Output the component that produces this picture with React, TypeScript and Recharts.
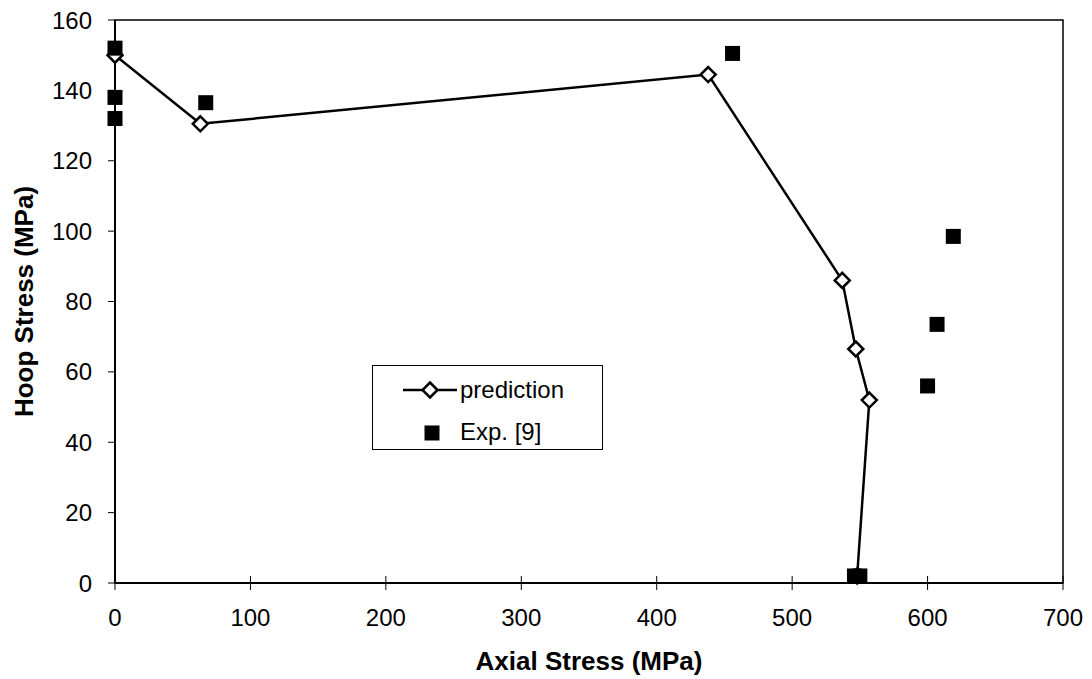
import React from 'react';
import { ScatterChart, Scatter, XAxis, YAxis, ReferenceArea } from 'recharts';

// prediction curve (axial, hoop) in MPa
const predAxial = [0, 63, 438, 537, 547, 557, 548];
const predHoop = [150, 130.5, 144.5, 86, 66.5, 52, 2];

// experimental points, ref [9]
const expAxial = [0, 0, 0, 67, 456, 619, 607, 600, 546, 550];
const expHoop = [152, 138, 132, 136.5, 150.5, 98.5, 73.5, 56, 2, 2];

const xTicks = [0, 100, 200, 300, 400, 500, 600, 700];
const yTicks = [0, 20, 40, 60, 80, 100, 120, 140, 160];

const predData = predAxial.map((x, i) => ({ x, y: predHoop[i] }));
const expData = expAxial.map((x, i) => ({ x, y: expHoop[i] }));

const FONT = '"Liberation Sans", Arial, sans-serif';

const Diamond = (props: any) => {
  const { cx, cy } = props;
  const r = 7.5;
  return (
    <path
      d={`M${cx},${cy - r} L${cx + r},${cy} L${cx},${cy + r} L${cx - r},${cy} Z`}
      fill="#fff"
      stroke="#000"
      strokeWidth={2.5}
    />
  );
};

const Square = (props: any) => {
  const { cx, cy } = props;
  const s = 15;
  return <rect x={cx - s / 2} y={cy - s / 2} width={s} height={s} fill="#000" />;
};

// x ticks cross the axis, so draw the upper half here
const XTick = (props: any) => {
  const { x, y, payload } = props;
  return (
    <g>
      <line x1={x} x2={x} y1={y - 33} y2={y - 26} stroke="#000" strokeWidth={1} />
      <text x={x} y={y} dy="0.71em" textAnchor="middle" fontSize={24} fontFamily={FONT} fill="#000">
        {payload.value}
      </text>
    </g>
  );
};

const LegendBox = () => (
  <div
    style={{
      position: 'absolute',
      left: 372,
      top: 365,
      width: 231,
      height: 85,
      boxSizing: 'border-box',
      border: '1px solid #000',
      background: '#fff',
    }}
  >
    <svg width={231} height={85} style={{ position: 'absolute', left: -1, top: -1 }}>
      <line x1={31} x2={85} y1={25} y2={25} stroke="#000" strokeWidth={2.5} />
      <Diamond cx={58} cy={25} />
      <Square cx={60} cy={68} />
      <text x={88} y={25} dy="0.35em" fontSize={24} fontFamily={FONT}>prediction</text>
      <text x={88} y={67} dy="0.35em" fontSize={24} fontFamily={FONT}>Exp. [9]</text>
    </svg>
  </div>
);

const YTitle = (props: any) => {
  const { viewBox } = props;
  const cx = viewBox.x + 24;
  const cy = viewBox.y + viewBox.height / 2;
  return (
    <text
      x={cx}
      y={cy}
      transform={`rotate(-90, ${cx}, ${cy})`}
      textAnchor="middle"
      dominantBaseline="central"
      fontSize={26}
      fontWeight="bold"
      fontFamily={FONT}
      fill="#000"
    >
      Hoop Stress (MPa)
    </text>
  );
};

const XTitle = (props: any) => {
  const { viewBox } = props;
  const cx = viewBox.x + viewBox.width / 2;
  const cy = viewBox.y + 78;
  return (
    <text x={cx} y={cy} textAnchor="middle" dominantBaseline="central" fontSize={26} fontWeight="bold" fontFamily={FONT} fill="#000">
      Axial Stress (MPa)
    </text>
  );
};

export default function App() {
  return (
    <div style={{ position: 'absolute', left: 0, top: 0, width: 1092, height: 679, background: '#fff' }}>
      <ScatterChart width={1092} height={679} margin={{ top: 20, right: 29, bottom: 0, left: 0 }}>
        <XAxis
          type="number"
          dataKey="x"
          domain={[0, 700]}
          ticks={xTicks}
          height={96}
          axisLine={{ stroke: '#000', strokeWidth: 2 }}
          tickLine={{ stroke: '#000', strokeWidth: 1 }}
          tickSize={7}
          tickMargin={19}
          tick={<XTick />}
          label={{ content: <XTitle /> }}
        />
        <YAxis
          type="number"
          dataKey="y"
          domain={[0, 160]}
          ticks={yTicks}
          width={115}
          axisLine={{ stroke: '#000', strokeWidth: 2 }}
          tickLine={{ stroke: '#000', strokeWidth: 1 }}
          tickSize={7}
          tickMargin={16}
          tick={{ fill: '#000', fontSize: 24, fontFamily: FONT }}
          label={{ content: <YTitle /> }}
        />
        <ReferenceArea x1={0} x2={700} y1={0} y2={160} fill="none" stroke="#000" strokeWidth={1.5} />
        <Scatter
          name="prediction"
          data={predData}
          shape={<Diamond />}
          line={{ stroke: '#000', strokeWidth: 2.5 }}
          lineType="joint"
          isAnimationActive={false}
        />
        <Scatter name="Exp. [9]" data={expData} shape={<Square />} isAnimationActive={false} />
      </ScatterChart>
      <LegendBox />
    </div>
  );
}
